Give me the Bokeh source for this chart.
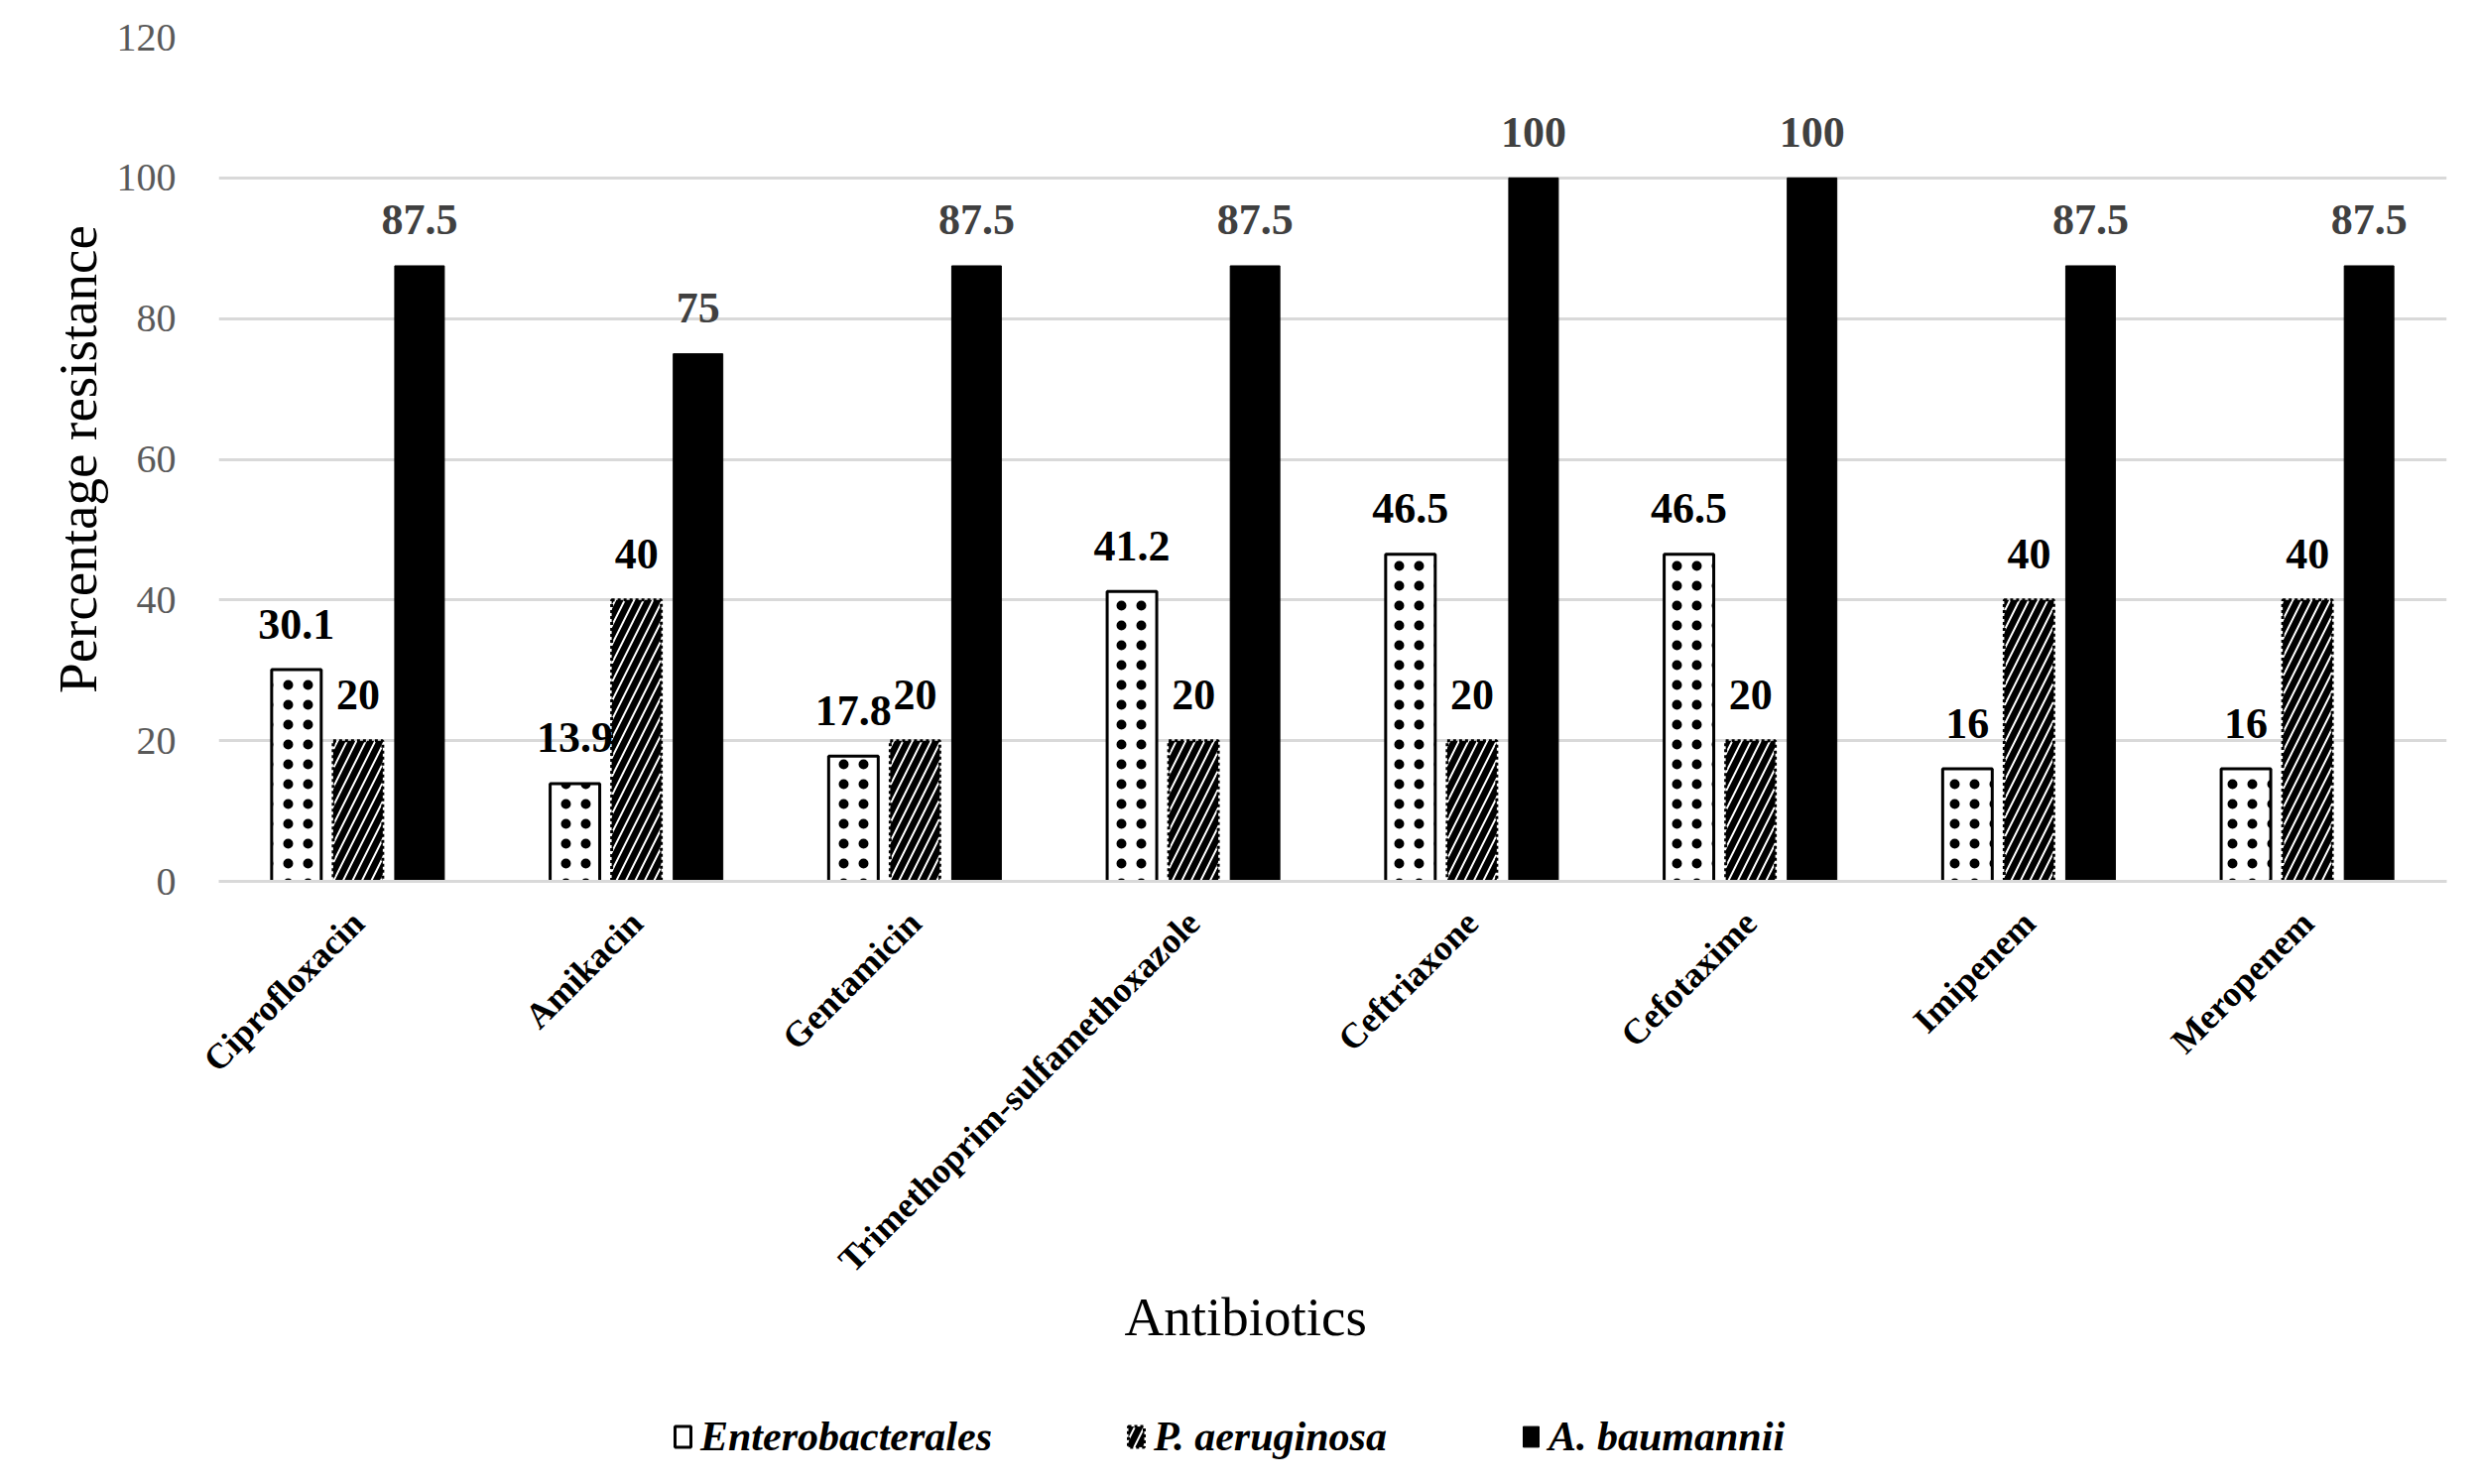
import math
from bokeh.plotting import figure
from bokeh.layouts import column
from bokeh.models import FactorRange, ColumnDataSource, Legend, LegendItem, FixedTicker, Title
from bokeh.transform import dodge
from bokeh.core.properties import value
from bokeh.embed import file_html
from bokeh.resources import INLINE

antibiotics = ["Ciprofloxacin", "Amikacin", "Gentamicin", "Trimethoprim-sulfamethoxazole",
               "Ceftriaxone", "Cefotaxime", "Imipenem", "Meropenem"]
enterobacterales = [30.1, 13.9, 17.8, 41.2, 46.5, 46.5, 16, 16]
p_aeruginosa = [20, 40, 20, 20, 20, 20, 40, 40]
a_baumannii = [87.5, 75, 87.5, 87.5, 100, 100, 87.5, 87.5]
y_ticks = [0, 20, 40, 60, 80, 100, 120]
series_names = ["Enterobacterales", "P. aeruginosa", "A. baumannii"]

FONT = "Liberation Serif"

src = ColumnDataSource(dict(
    ab=antibiotics,
    ent=enterobacterales, pae=p_aeruginosa, aba=a_baumannii,
    ent_l=[f"{v:g}" for v in enterobacterales],
    pae_l=[f"{v:g}" for v in p_aeruginosa],
    aba_l=[f"{v:g}" for v in a_baumannii],
))

MAIN_H = 1390
LEG_H = 1496 - MAIN_H

p = figure(x_range=FactorRange(*antibiotics, range_padding=0), y_range=(0, 120),
           width=2499, height=MAIN_H, output_backend="svg", toolbar_location=None,
           min_border_left=220, min_border_right=33, min_border_top=37,
           min_border_bottom=MAIN_H - 888)
p.outline_line_color = None
p.background_fill_color = "white"
p.border_fill_color = "white"

# y axis
p.yaxis.ticker = FixedTicker(ticks=y_ticks)
p.yaxis.axis_line_color = None
p.yaxis.major_tick_line_color = None
p.yaxis.minor_tick_line_color = None
p.yaxis.major_label_text_font = FONT
p.yaxis.major_label_text_font_size = "40px"
p.yaxis.major_label_text_color = "#595959"
p.yaxis.major_label_standoff = 37
p.yaxis.axis_label = "Percentage resistance"
p.yaxis.axis_label_text_font = FONT
p.yaxis.axis_label_text_font_size = "55px"
p.yaxis.axis_label_text_font_style = "normal"
p.yaxis.axis_label_text_color = "black"
p.yaxis.axis_label_standoff = 6

p.ygrid.ticker = FixedTicker(ticks=y_ticks)
p.ygrid.grid_line_color = "#d9d9d9"
p.ygrid.grid_line_width = 3
p.xgrid.grid_line_color = None

# x axis
p.xaxis.axis_line_color = "#d9d9d9"
p.xaxis.axis_line_width = 3
p.xaxis.major_tick_line_color = None
p.xaxis.minor_tick_line_color = None
p.xaxis.major_label_orientation = math.pi / 4
p.xaxis.major_label_text_font = FONT
p.xaxis.major_label_text_font_style = "bold"
p.xaxis.major_label_text_font_size = "36px"
p.xaxis.major_label_text_color = "black"
p.xaxis.major_label_standoff = 30

xtitle = Title(text="Antibiotics", align="left", offset=913, standoff=-26,
               text_font=FONT, text_font_size="55px", text_font_style="normal",
               text_color="black")
p.add_layout(xtitle, "below")

W = 0.178
OFF = 0.221

ENT_STYLE = dict(fill_color="white", line_color="black", line_width=3)
PAE_STYLE = dict(fill_color="white", line_color="black", line_width=3, line_dash="3 3",
                 hatch_pattern="right_diagonal_line", hatch_scale=19, hatch_weight=6.5,
                 hatch_color="black")
ABA_STYLE = dict(fill_color="black", line_color="black", line_width=1)

p.vbar(x=dodge("ab", -OFF, range=p.x_range), top="ent", width=W, source=src,
       hatch_pattern="dot", hatch_scale=20, hatch_weight=1, hatch_color="black", **ENT_STYLE)
p.vbar(x=dodge("ab", 0, range=p.x_range), top="pae", width=W, source=src, **PAE_STYLE)
p.vbar(x=dodge("ab", OFF, range=p.x_range), top="aba", width=W, source=src, **ABA_STYLE)

for col, lbl, off, color in [("ent", "ent_l", -OFF, "black"), ("pae", "pae_l", 0, "black"),
                             ("aba", "aba_l", OFF, "#404040")]:
    p.text(x=dodge("ab", off, range=p.x_range), y=col, text=lbl, source=src,
           text_font=value(FONT), text_font_style="bold", text_font_size="44px",
           text_color=color, text_align="center", text_baseline="alphabetic", y_offset=-46)

# legend strip below the chart (its glyph renderers have no drawable geometry)
lf = figure(width=2499, height=LEG_H, output_backend="svg", toolbar_location=None,
            x_range=(0, 1), y_range=(0, 1), min_border=0,
            min_border_left=220, min_border_right=33)
lf.axis.visible = False
lf.grid.grid_line_color = None
lf.outline_line_color = None
lf.background_fill_color = "white"
lf.border_fill_color = "white"

hidden = ColumnDataSource(dict(x=[0.5], top=[float("nan")], bottom=[float("nan")]))
g1 = lf.vbar(x="x", top="top", bottom="bottom", width=0.1, source=hidden, **ENT_STYLE)
g2 = lf.vbar(x="x", top="top", bottom="bottom", width=0.1, source=hidden, **PAE_STYLE)
g3 = lf.vbar(x="x", top="top", bottom="bottom", width=0.1, source=hidden, **ABA_STYLE)

legend = Legend(items=[LegendItem(label=series_names[0], renderers=[g1]),
                       LegendItem(label=series_names[1], renderers=[g2]),
                       LegendItem(label=series_names[2], renderers=[g3])],
                orientation="horizontal", location=(458, 24))
legend.label_text_font = FONT
legend.label_text_font_style = "bold italic"
legend.label_text_font_size = "42px"
legend.label_text_color = "black"
legend.glyph_width = 20
legend.glyph_height = 26
legend.label_standoff = 8
legend.spacing = 135
legend.border_line_color = None
legend.background_fill_alpha = 0
legend.margin = 0
legend.padding = 0
lf.add_layout(legend, "center")

layout = column(p, lf, spacing=0)
open("out.html", "w").write(file_html(layout, INLINE))
